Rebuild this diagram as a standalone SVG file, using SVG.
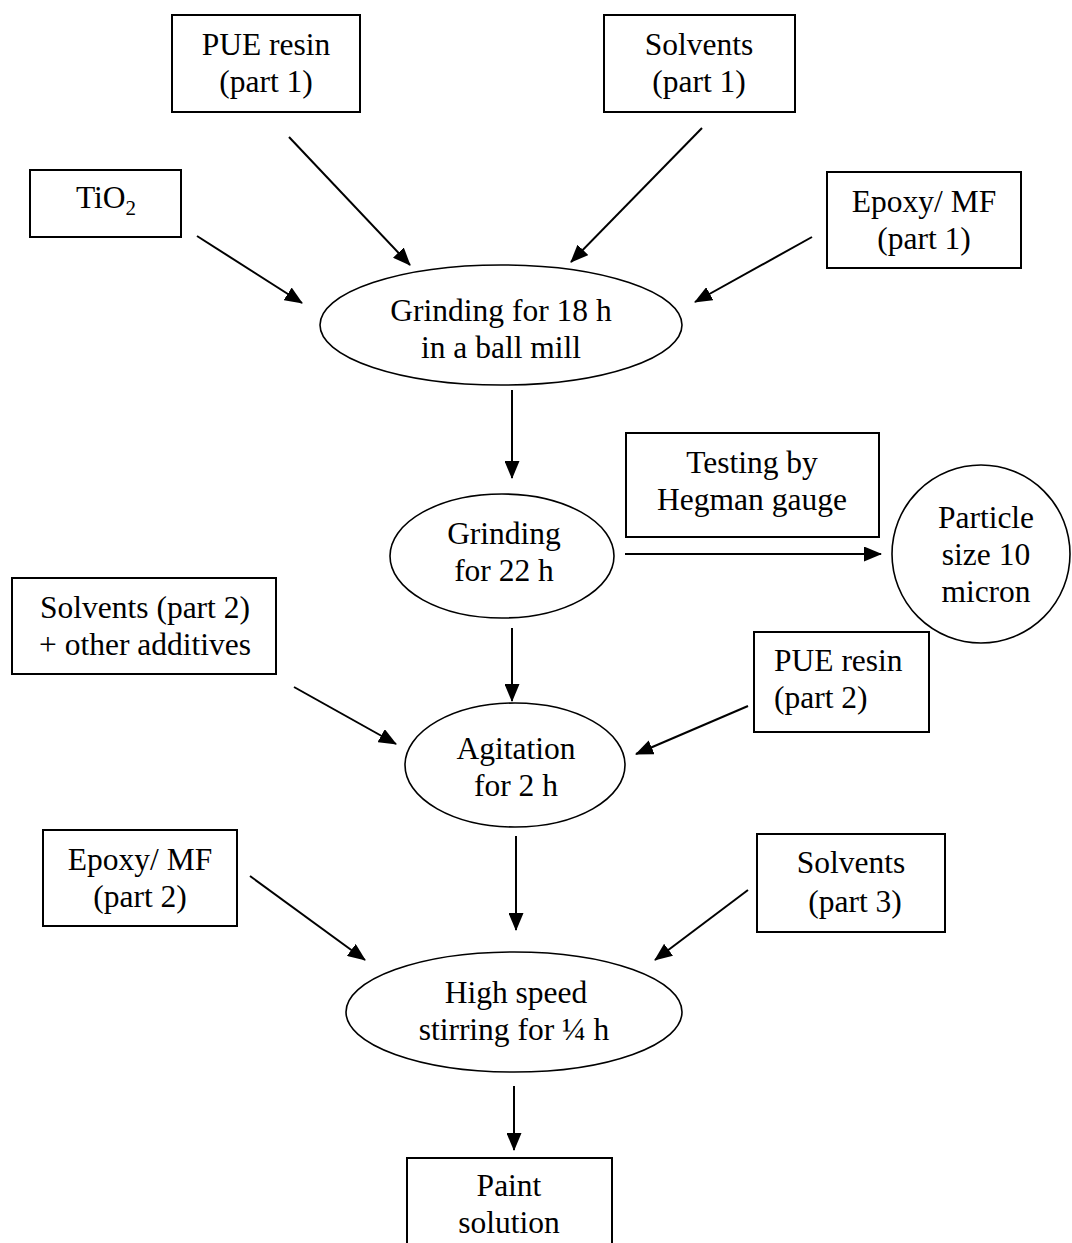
<svg xmlns="http://www.w3.org/2000/svg" width="1072" height="1243" viewBox="0 0 1072 1243">
  <style>
    .box { fill: #ffffff; stroke: #000000; stroke-width: 2; }
    .oval { fill: #ffffff; stroke: #000000; stroke-width: 1.6; }
    .lbl { font-family: "Liberation Serif", "Times New Roman", serif; font-size: 31.5px; fill: #000000; text-anchor: middle; }
    .left { text-anchor: start; }
    .edge { fill: none; stroke: #000000; stroke-width: 2; marker-end: url(#head); }
  </style>
  <defs>
    <marker id="head" viewBox="0 0 18 15" markerWidth="18" markerHeight="15" refX="17" refY="7.5" orient="auto" markerUnits="userSpaceOnUse">
      <path d="M0,0 L18,7.5 L0,15 z" fill="#000000"/>
    </marker>
  </defs>
  <rect width="1072" height="1243" fill="#ffffff"/>

  <!-- connectors -->
  <g id="connectors">
    <line class="edge" x1="289" y1="137" x2="410" y2="265"/>
    <line class="edge" x1="702" y1="128" x2="571" y2="262"/>
    <line class="edge" x1="197" y1="236" x2="302" y2="303"/>
    <line class="edge" x1="812" y1="237" x2="695" y2="302"/>
    <line class="edge" x1="512" y1="390" x2="512" y2="478"/>
    <line class="edge" x1="625" y1="554" x2="881" y2="554"/>
    <line class="edge" x1="512" y1="628" x2="512" y2="701"/>
    <line class="edge" x1="294" y1="687" x2="396" y2="744"/>
    <line class="edge" x1="748" y1="706" x2="636" y2="754"/>
    <line class="edge" x1="516" y1="836" x2="516" y2="930"/>
    <line class="edge" x1="250" y1="876" x2="365" y2="960"/>
    <line class="edge" x1="748" y1="890" x2="655" y2="960"/>
    <line class="edge" x1="514" y1="1086" x2="514" y2="1150"/>
  </g>

  <!-- raw materials and process steps -->
  <g id="pue-resin-1">
    <rect class="box" x="172" y="15" width="188" height="97"/>
    <text class="lbl" x="266" y="55">PUE resin</text>
    <text class="lbl" x="266" y="92">(part 1)</text>
  </g>
  <g id="solvents-1">
    <rect class="box" x="604" y="15" width="191" height="97"/>
    <text class="lbl" x="699" y="55">Solvents</text>
    <text class="lbl" x="699" y="92">(part 1)</text>
  </g>
  <g id="tio2">
    <rect class="box" x="30" y="170" width="151" height="67"/>
    <text class="lbl" x="106" y="208">TiO<tspan font-size="21" dy="7">2</tspan></text>
  </g>
  <g id="epoxy-mf-1">
    <rect class="box" x="827" y="172" width="194" height="96"/>
    <text class="lbl" x="924" y="212">Epoxy/ MF</text>
    <text class="lbl" x="924" y="249">(part 1)</text>
  </g>
  <g id="grinding-18h">
    <ellipse class="oval" cx="501" cy="325" rx="181" ry="60"/>
    <text class="lbl" x="501" y="321">Grinding for 18 h</text>
    <text class="lbl" x="501" y="358">in a ball mill</text>
  </g>
  <g id="grinding-22h">
    <ellipse class="oval" cx="502" cy="556" rx="112" ry="62"/>
    <text class="lbl" x="504" y="544">Grinding</text>
    <text class="lbl" x="504" y="581">for 22 h</text>
  </g>
  <g id="hegman-test">
    <rect class="box" x="626" y="433" width="253" height="104"/>
    <text class="lbl" x="752" y="473">Testing by</text>
    <text class="lbl" x="752" y="510">Hegman gauge</text>
  </g>
  <g id="particle-size">
    <circle class="oval" cx="981" cy="554" r="89"/>
    <text class="lbl" x="986" y="528">Particle</text>
    <text class="lbl" x="986" y="565">size 10</text>
    <text class="lbl" x="986" y="602">micron</text>
  </g>
  <g id="solvents-2">
    <rect class="box" x="12" y="578" width="264" height="96"/>
    <text class="lbl" x="145" y="618">Solvents (part 2)</text>
    <text class="lbl" x="145" y="655">+ other additives</text>
  </g>
  <g id="pue-resin-2">
    <rect class="box" x="754" y="632" width="175" height="100"/>
    <text class="lbl left" x="774" y="671">PUE resin</text>
    <text class="lbl left" x="774" y="708">(part 2)</text>
  </g>
  <g id="agitation">
    <ellipse class="oval" cx="515" cy="765" rx="110" ry="62"/>
    <text class="lbl" x="516" y="759">Agitation</text>
    <text class="lbl" x="516" y="796">for 2 h</text>
  </g>
  <g id="epoxy-mf-2">
    <rect class="box" x="43" y="830" width="194" height="96"/>
    <text class="lbl" x="140" y="870">Epoxy/ MF</text>
    <text class="lbl" x="140" y="907">(part 2)</text>
  </g>
  <g id="solvents-3">
    <rect class="box" x="757" y="834" width="188" height="98"/>
    <text class="lbl" x="851" y="873">Solvents</text>
    <text class="lbl" x="855" y="912">(part 3)</text>
  </g>
  <g id="high-speed-stirring">
    <ellipse class="oval" cx="514" cy="1012" rx="168" ry="60"/>
    <text class="lbl" x="516" y="1003">High speed</text>
    <text class="lbl" x="514" y="1040">stirring for ¼ h</text>
  </g>
  <g id="paint-solution">
    <rect class="box" x="407" y="1158" width="205" height="110"/>
    <text class="lbl" x="509" y="1196">Paint</text>
    <text class="lbl" x="509" y="1233">solution</text>
  </g>
</svg>
